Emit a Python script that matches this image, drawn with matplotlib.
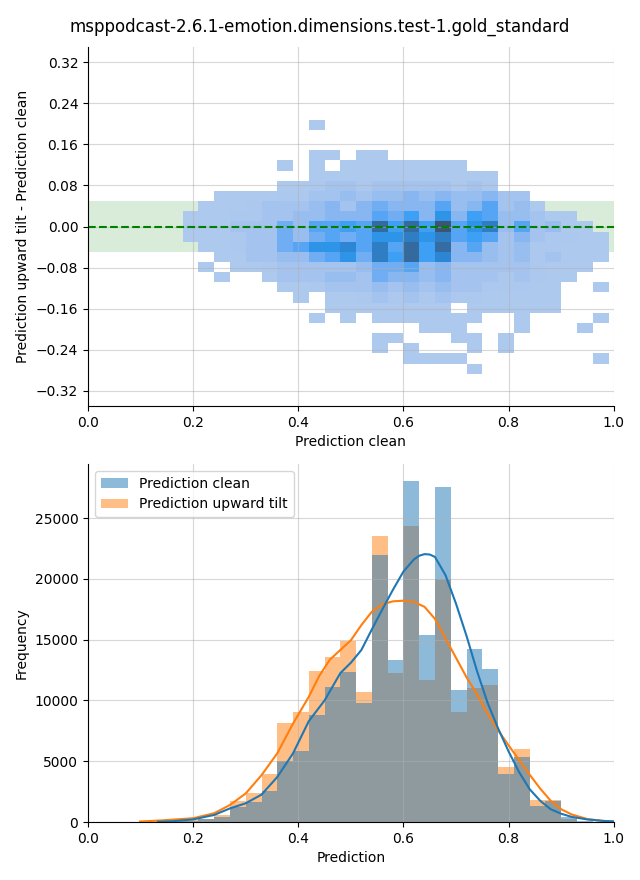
import numpy as np
import matplotlib
matplotlib.use('Agg')
import matplotlib.pyplot as plt
from matplotlib.colors import LinearSegmentedColormap

title = 'msppodcast-2.6.1-emotion.dimensions.test-1.gold_standard'

# top panel: 2d histogram of (clean, tilt - clean), rows listed top -> bottom
x_edges = np.linspace(0.18, 0.99, 28)
y_edges = np.linspace(-0.287, 0.208, 26)
diff_counts = [
    [0, 0, 0, 0, 0, 0, 0, 0, 10, 0, 0, 0, 0, 0, 0, 0, 0, 0, 0, 0, 0, 0, 0, 0, 0, 0, 0],
    [0, 0, 0, 0, 0, 0, 0, 0, 0, 0, 0, 0, 0, 0, 0, 0, 0, 0, 0, 0, 0, 0, 0, 0, 0, 0, 0],
    [0, 0, 0, 0, 0, 0, 0, 0, 0, 0, 0, 0, 0, 0, 0, 0, 0, 0, 0, 0, 0, 0, 0, 0, 0, 0, 0],
    [0, 0, 0, 0, 0, 0, 0, 0, 10, 10, 0, 10, 10, 0, 0, 0, 0, 0, 0, 0, 0, 0, 0, 0, 0, 0, 0],
    [0, 0, 0, 0, 0, 0, 10, 0, 10, 0, 10, 10, 10, 10, 10, 10, 10, 10, 0, 0, 0, 0, 0, 0, 0, 0, 0],
    [0, 0, 0, 0, 0, 0, 0, 0, 10, 10, 10, 10, 10, 10, 10, 10, 10, 10, 10, 10, 0, 0, 0, 0, 0, 0, 0],
    [0, 0, 0, 0, 0, 0, 10, 10, 20, 70, 70, 20, 70, 70, 70, 70, 70, 20, 70, 20, 0, 0, 0, 0, 0, 0, 0],
    [0, 0, 10, 10, 10, 10, 20, 20, 70, 70, 140, 70, 140, 140, 220, 140, 220, 140, 140, 220, 70, 70, 0, 0, 0, 0, 0],
    [0, 10, 10, 10, 20, 70, 70, 70, 140, 220, 70, 220, 320, 220, 220, 220, 420, 140, 220, 420, 70, 140, 10, 0, 0, 0, 0],
    [10, 10, 10, 20, 20, 70, 70, 140, 140, 220, 220, 220, 420, 320, 500, 220, 600, 220, 500, 420, 140, 140, 70, 10, 10, 0, 0],
    [10, 10, 10, 70, 70, 70, 320, 140, 420, 420, 500, 420, 900, 500, 900, 500, 1060, 420, 600, 760, 140, 420, 70, 140, 10, 10, 0],
    [10, 10, 10, 20, 70, 70, 320, 140, 320, 420, 320, 420, 600, 600, 760, 600, 760, 420, 500, 420, 70, 220, 70, 20, 20, 10, 10],
    [0, 10, 10, 20, 70, 70, 320, 420, 600, 600, 700, 420, 760, 420, 900, 500, 880, 220, 420, 140, 70, 140, 20, 20, 10, 10, 10],
    [0, 0, 10, 10, 70, 70, 140, 140, 320, 420, 600, 320, 760, 500, 900, 500, 700, 220, 220, 140, 70, 140, 20, 70, 10, 10, 10],
    [0, 10, 0, 10, 10, 20, 70, 70, 70, 70, 70, 140, 320, 320, 420, 140, 220, 70, 70, 70, 70, 70, 20, 10, 10, 10, 0],
    [0, 0, 10, 0, 0, 10, 70, 70, 70, 140, 140, 70, 320, 220, 220, 140, 220, 70, 70, 70, 20, 70, 20, 10, 10, 0, 0],
    [0, 0, 0, 0, 0, 0, 10, 10, 20, 70, 70, 70, 140, 70, 140, 70, 140, 70, 70, 20, 20, 20, 10, 10, 0, 0, 10],
    [0, 0, 0, 0, 0, 0, 0, 10, 0, 10, 10, 20, 70, 20, 70, 20, 70, 20, 20, 10, 10, 10, 10, 10, 0, 0, 0],
    [0, 0, 0, 0, 0, 0, 0, 0, 0, 10, 10, 10, 10, 10, 10, 10, 10, 0, 10, 10, 10, 10, 10, 10, 0, 0, 0],
    [0, 0, 0, 0, 0, 0, 0, 0, 10, 0, 10, 0, 10, 10, 10, 10, 10, 10, 10, 0, 0, 10, 0, 0, 0, 0, 10],
    [0, 0, 0, 0, 0, 0, 0, 0, 0, 0, 0, 0, 0, 0, 0, 10, 10, 10, 0, 0, 0, 10, 0, 0, 0, 10, 0],
    [0, 0, 0, 0, 0, 0, 0, 0, 0, 0, 0, 0, 10, 10, 0, 0, 0, 10, 10, 0, 10, 0, 0, 0, 0, 0, 0],
    [0, 0, 0, 0, 0, 0, 0, 0, 0, 0, 0, 0, 10, 0, 10, 0, 0, 0, 10, 0, 10, 0, 0, 0, 0, 0, 0],
    [0, 0, 0, 0, 0, 0, 0, 0, 0, 0, 0, 0, 0, 0, 10, 10, 10, 10, 0, 0, 0, 0, 0, 0, 0, 0, 10],
    [0, 0, 0, 0, 0, 0, 0, 0, 0, 0, 0, 0, 0, 0, 0, 0, 0, 0, 10, 0, 0, 0, 0, 0, 0, 0, 0],
]

# bottom panel: histograms (left bin edges, width 0.03)
bin_left = [0.09, 0.12, 0.15, 0.18, 0.21, 0.24, 0.27, 0.30, 0.33, 0.36, 0.39, 0.42, 0.45, 0.48, 0.51,
            0.54, 0.57, 0.60, 0.63, 0.66, 0.69, 0.72, 0.75, 0.78, 0.81, 0.84, 0.87, 0.90, 0.93, 0.96]
hist_clean = [0, 15, 50, 110, 220, 440, 1260, 1680, 2580, 5000, 5840, 8800, 11100, 12330, 9780,
              21930, 13320, 28040, 15380, 27550, 10850, 14230, 12580, 3950, 5350, 1320, 1700, 380, 60, 20]
hist_tilt = [10, 30, 60, 130, 250, 580, 1750, 2350, 3950, 8140, 9040, 12400, 13560, 14870, 10680,
             23560, 12270, 24340, 11680, 20010, 9050, 11020, 11270, 4520, 6000, 1850, 1800, 220, 40, 10]

# kde curves
kde_clean_x = [0.133, 0.16, 0.20, 0.24, 0.27, 0.30, 0.33, 0.36, 0.39, 0.42, 0.45, 0.48, 0.50, 0.52, 0.54,
               0.56, 0.58, 0.60, 0.62, 0.63, 0.64, 0.65, 0.66, 0.68, 0.70, 0.72, 0.74, 0.76, 0.78, 0.80,
               0.82, 0.84, 0.86, 0.88, 0.90, 0.92, 0.95, 0.98, 1.0]
kde_clean_y = [20, 60, 210, 580, 1120, 1540, 2250, 3700, 5650, 8300, 10000, 12250, 13100, 14150, 15850,
               17500, 19100, 20600, 21600, 21900, 22030, 22000, 21800, 20300, 17950, 15300, 12400, 9800, 7700, 5800,
               4100, 2700, 1750, 1050, 680, 420, 210, 90, 50]
kde_tilt_x = [0.099, 0.14, 0.20, 0.24, 0.27, 0.30, 0.33, 0.36, 0.39, 0.42, 0.44, 0.46, 0.48, 0.50, 0.52,
              0.54, 0.56, 0.58, 0.60, 0.62, 0.64, 0.66, 0.68, 0.70, 0.72, 0.74, 0.76, 0.78, 0.80, 0.82,
              0.84, 0.86, 0.88, 0.90, 0.92, 0.95, 0.98, 1.0]
kde_tilt_y = [40, 130, 310, 720, 1400, 2350, 3850, 5650, 8100, 10300, 12030, 13350, 14150, 14950, 16200,
              17300, 17900, 18150, 18200, 18100, 17700, 16700, 15100, 13500, 11900, 10500, 8900, 7550, 6300, 5100,
              3900, 2750, 1750, 1050, 620, 240, 90, 40]

cmap = LinearSegmentedColormap.from_list('blues_ramp', [
    (0.0, '#adc9ee'), (0.057, '#a4c3ee'), (0.124, '#98bdef'), (0.2, '#88b6f0'),
    (0.295, '#70adf2'), (0.39, '#55a5f4'), (0.467, '#3ea0f5'), (0.562, '#2d94e8'),
    (0.657, '#2d86d4'), (0.714, '#2f7ec4'), (0.848, '#356a9e'), (1.0, '#3b5573')])

fig = plt.figure(figsize=(6.4, 8.8), dpi=100)
ax1 = fig.add_axes([0.1375, 0.5386, 0.8215, 0.408])
ax2 = fig.add_axes([0.1375, 0.0659, 0.8215, 0.4068])
fig.suptitle(title, fontsize=12)

# top
ax1.axhspan(-0.05, 0.05, color='green', alpha=0.15, linewidth=0)
grid = np.ma.masked_equal(np.array(diff_counts)[::-1], 0)
ax1.pcolormesh(x_edges, y_edges, grid, cmap=cmap)
ax1.axhline(0, color='green', linestyle='--', linewidth=1.5)
ax1.set_xlim(0, 1)
ax1.set_ylim(-0.35, 0.35)
ax1.set_yticks(np.arange(-0.32, 0.33, 0.08))
ax1.set_xlabel('Prediction clean')
ax1.set_ylabel('Prediction upward tilt - Prediction clean')
ax1.grid(alpha=0.5)

# bottom
ax2.bar(bin_left, hist_tilt, width=0.03, align='edge', color='C1', alpha=0.5, linewidth=0)
ax2.bar(bin_left, hist_clean, width=0.03, align='edge', color='C0', alpha=0.5, linewidth=0)
ax2.plot(kde_tilt_x, kde_tilt_y, color='C1', linewidth=1.5)
ax2.plot(kde_clean_x, kde_clean_y, color='C0', linewidth=1.5)
h_clean = plt.Rectangle((0, 0), 1, 1, color='C0', alpha=0.5, linewidth=0)
h_tilt = plt.Rectangle((0, 0), 1, 1, color='C1', alpha=0.5, linewidth=0)
ax2.legend([h_clean, h_tilt], ['Prediction clean', 'Prediction upward tilt'], loc='upper left')
ax2.set_xlim(0, 1)
ax2.set_xlabel('Prediction')
ax2.set_ylabel('Frequency')
ax2.grid(alpha=0.5)

for ax in (ax1, ax2):
    ax.spines['top'].set_visible(False)
    ax.spines['right'].set_visible(False)

plt.savefig('out.png')
